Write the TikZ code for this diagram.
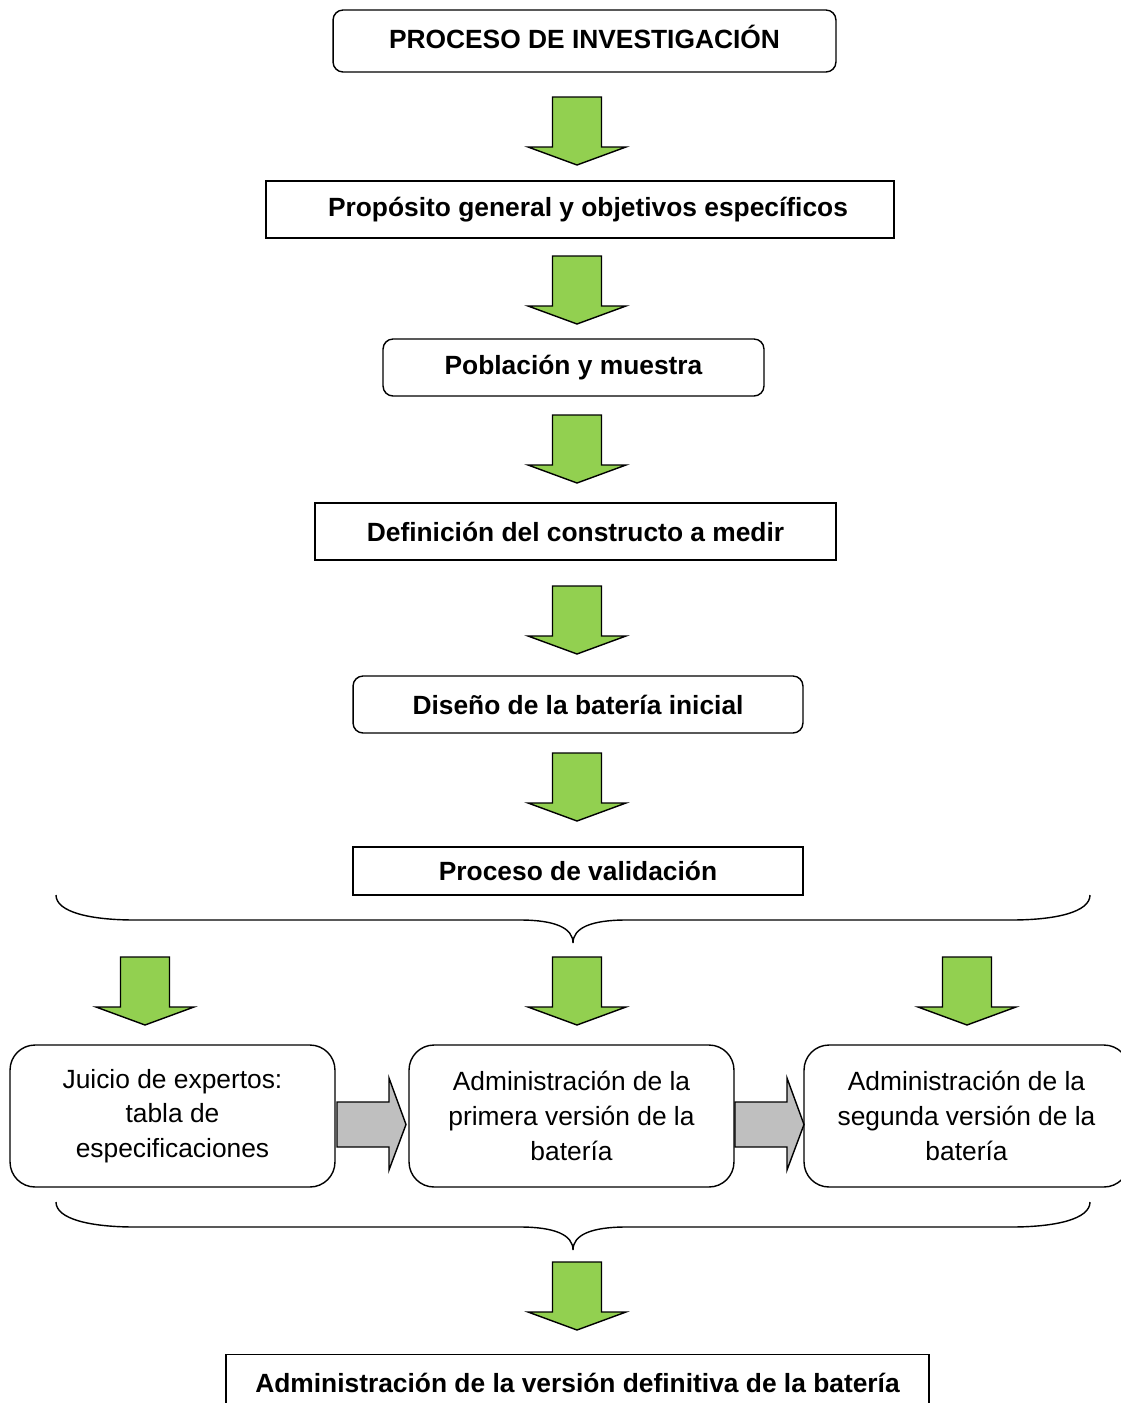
\documentclass[tikz,border=0pt]{standalone}
\usepackage{fontspec}
\setmainfont{Liberation Sans}
\usetikzlibrary{positioning,calc}
\definecolor{stepgreen}{RGB}{146,208,80}
\definecolor{stepgray}{RGB}{191,191,191}
\tikzstyle{titlebox} = [rectangle, draw, line width=0.8pt, fill=white, minimum height=1.14cm, text centered, font=\fontsize{15}{18}\selectfont\bfseries]
\tikzstyle{roundbox} = [titlebox, rounded corners=0.2cm]
\tikzstyle{phasebox} = [rectangle, draw, line width=0.8pt, fill=white, rounded corners=0.5cm, minimum width=6.5cm, minimum height=2.84cm, align=center, font=\fontsize{15}{19.8}\selectfont]
\tikzstyle{blockarrow} = [draw, line width=0.8pt, fill=stepgreen, line join=miter]
\tikzstyle{sidearrow} = [blockarrow, fill=stepgray]
\tikzset{
  downblock/.pic={\path[blockarrow] (-24.5,0) -- (24.5,0) -- (24.5,50) -- (49,50) -- (0,68) -- (-49,50) -- (-24.5,50) -- cycle;},
  sideblock/.pic={\path[sidearrow] (0,-22.5) -- (52,-22.5) -- (52,-46.5) -- (69,0) -- (52,45.5) -- (52,22.5) -- (0,22.5) -- cycle;},
  curlybrace/.pic={\draw[line width=0.8pt] (-517,-48) .. controls (-517,-31) and (-483,-23) .. (-438,-23) -- (-53,-23) .. controls (-18,-23) and (0,-15) .. (0,0) .. controls (0,-15) and (18,-23) .. (53,-23) -- (438,-23) .. controls (483,-23) and (517,-31) .. (517,-48);}
}

\begin{document}
\begin{tikzpicture}[x=0.02cm, y=-0.02cm]
\useasboundingbox (0,0) rectangle (1121,1403);
\clip (0,0) rectangle (1121,1403);

% Main steps
\node[roundbox, minimum width=10.06cm, minimum height=1.24cm, text depth=5pt] (proceso) at (584.5,41) {PROCESO DE INVESTIGACIÓN};
\node[titlebox, minimum width=12.56cm] (proposito) at (580,209.5) {\hspace*{0.32cm}Propósito general y objetivos específicos};
\node[roundbox, minimum width=7.62cm] (poblacion) at (573.5,367.5) {Población y muestra};
\node[titlebox, minimum width=10.42cm] (constructo) at (575.5,531.5) {Definición del constructo a medir};
\node[roundbox, minimum width=9cm] (diseno) at (578,704.5) {Diseño de la batería inicial};
\node[titlebox, minimum width=9cm, minimum height=0.96cm] (validacion) at (578,871) {Proceso de validación};

\pic at (577,97) {downblock};
\pic at (577,256) {downblock};
\pic at (577,415) {downblock};
\pic at (577,586) {downblock};
\pic at (577,753) {downblock};

% Validation phases
\pic at (573,943) {curlybrace};
\pic at (145,957) {downblock};
\pic at (577,957) {downblock};
\pic at (967,957) {downblock};

\node[phasebox] (jueces) at (172.5,1116) {Juicio de expertos:\\tabla de\\especificaciones};
\node[phasebox] (admin1) at (571.5,1116) {Administración de la\\primera versión de la\\batería};
\node[phasebox] (admin2) at (966.5,1116) {Administración de la\\segunda versión de la\\batería};

\pic at (337,1124.5) {sideblock};
\pic at (735,1124.5) {sideblock};

% Final version
\pic at (573,1250) {curlybrace};
\pic at (577,1262) {downblock};
\node[titlebox, anchor=north, minimum width=14.06cm, minimum height=1.12cm] (definitiva) at (577.5,1354) {Administración de la versión definitiva de la batería};
\end{tikzpicture}
\end{document}
